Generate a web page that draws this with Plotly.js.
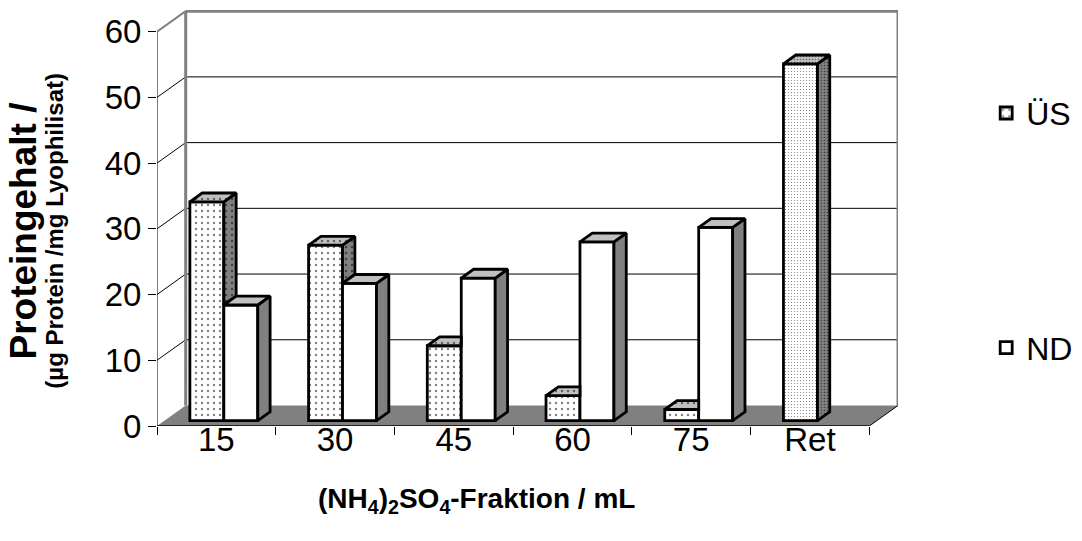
<!DOCTYPE html>
<html>
<head>
<meta charset="utf-8">
<script src="https://cdn.plot.ly/plotly-3.0.1.min.js"></script>
<style>html,body{margin:0;padding:0;background:#fff;}#chart{width:1082px;height:541px;}</style>
</head>
<body>
<div id="chart"></div>
<script>
// ---------------- data ----------------
const categories = ['15', '30', '45', '60', '75', 'Ret'];
const usValues = [33.3, 26.7, 11.4, 3.8, 1.7, 54.3];   // ÜS
const ndValues = [17.6, 20.9, 21.7, 27.2, 29.4, null]; // ND
const yTicks = [0, 10, 20, 30, 40, 50, 60];
const seriesNames = ['ÜS', 'ND'];

// ---------------- geometry / style ----------------
const FONT = '"Liberation Sans", Arial, sans-serif';
const N = categories.length;
const X0 = -0.5, X1 = N - 0.5, YTOP = yTicks[yTicks.length - 1];
const DX = 0.2417, DY = 3.12;       // depth of the 3D floor in axis units
const F0 = 0.26, FD = 0.43;         // bar front position / bar depth as fraction of floor depth
const W = 0.286;                    // bar width (category units)
const SX = F0 * DX, B = F0 * DY, ddx = FD * DX, ddy = FD * DY;
const usPatternSize = categories.map((c, i) => ndValues[i] == null ? 3 : 6);
const xs = categories.map((c, i) => i);

function polys(list) {
  const x = [], y = [];
  list.forEach(p => {
    p.forEach(pt => { x.push(pt[0]); y.push(pt[1]); });
    x.push(p[0][0]); y.push(p[0][1]);
    x.push(null); y.push(null);
  });
  return { x, y };
}

const usSideN = [], usSideF = [], usTopN = [], usTopF = [], ndSide = [], ndTop = [];
xs.forEach(i => {
  const vU = usValues[i], vN = ndValues[i];
  if (vU != null) {
    const xl = i + SX - W, xr = i + SX, T = B + vU;
    const bot = B + (vN == null ? 0 : vN);
    const side = (vN == null || vU > vN) ? [[xr, bot], [xr + ddx, bot + ddy], [xr + ddx, T + ddy], [xr, T]] : null;
    const top = (vN != null && vN > vU)
      ? [[xl, T], [xr, T], [xr, T + ddy], [xl + ddx, T + ddy]]
      : [[xl, T], [xr, T], [xr + ddx, T + ddy], [xl + ddx, T + ddy]];
    if (vN == null) { if (side) usSideF.push(side); usTopF.push(top); }
    else { if (side) usSideN.push(side); usTopN.push(top); }
  }
  if (vN != null) {
    const xl = i + SX, xr = i + SX + W, T = B + vN;
    ndSide.push([[xr, B], [xr + ddx, B + ddy], [xr + ddx, T + ddy], [xr, T]]);
    ndTop.push([[xl, T], [xr, T], [xr + ddx, T + ddy], [xl + ddx, T + ddy]]);
  }
});

const OUT = { color: '#000', width: 2.8 };
function face(list, fill, pat) {
  const p = polys(list);
  const t = { type: 'scatter', mode: 'lines', x: p.x, y: p.y, fill: 'toself', fillcolor: fill,
    line: OUT, showlegend: false, hoverinfo: 'skip' };
  if (pat) t.fillpattern = pat;
  return t;
}

const traces = [
  { type: 'bar', name: seriesNames[0], legendgroup: 'a', x: xs, y: usValues, base: B, offset: SX - W, width: W,
    marker: { color: '#fff', line: OUT,
      pattern: { shape: '.', size: usPatternSize, solidity: 0.12, fgcolor: '#000', bgcolor: '#fff', fillmode: 'overlay' } },
    hoverinfo: 'skip' },
  { type: 'bar', name: seriesNames[1], legendgroup: 'b', x: xs, y: ndValues, base: B, offset: SX, width: W,
    marker: { color: '#fff', line: OUT }, hoverinfo: 'skip' },
  face(usSideN, '#808080', { shape: '.', size: 6, solidity: 0.12, fgcolor: '#000', bgcolor: '#808080', fillmode: 'overlay' }),
  face(usTopN, '#c0c0c0', { shape: '.', size: 6, solidity: 0.12, fgcolor: '#000', bgcolor: '#c0c0c0', fillmode: 'overlay' }),
  face(usSideF, '#606060', { shape: '.', size: 3, solidity: 0.2, fgcolor: '#000', bgcolor: '#808080', fillmode: 'overlay' }),
  face(usTopF, '#b0b0b0', { shape: '.', size: 3, solidity: 0.2, fgcolor: '#000', bgcolor: '#c0c0c0', fillmode: 'overlay' }),
  face(ndSide, '#808080'),
  face(ndTop, '#c0c0c0')
];

// frame shapes (walls, floor, gridlines)
const shapes = [];
const L = (x0, y0, x1, y1, color, width) => ({ type: 'line', xref: 'x', yref: 'y', x0, y0, x1, y1,
  line: { color, width }, layer: 'below' });
shapes.push({ type: 'path', xref: 'x', yref: 'y', layer: 'below',
  path: `M ${X0},0 L ${X1},0 L ${X1 + DX},${DY} L ${X0 + DX},${DY} Z`, fillcolor: '#808080', line: { width: 0 } });
yTicks.forEach(v => {
  if (v > 0 && v < YTOP) {
    shapes.push(L(X0 + DX, v + DY, X1 + DX, v + DY, '#000', 1));
    shapes.push(L(X0, v, X0 + DX, v + DY, '#000', 1));
  }
});
shapes.push(L(X0 + DX, DY, X0 + DX, YTOP + DY, '#808080', 3));
shapes.push(L(X0 + DX, YTOP + DY, X1 + DX, YTOP + DY, '#808080', 3));
shapes.push(L(X1 + DX, DY, X1 + DX, YTOP + DY, '#808080', 3));
shapes.push(L(X0, YTOP, X0 + DX, YTOP + DY, '#808080', 2));
shapes.push(L(X0, 0, X0, YTOP, '#000', 1));
shapes.push(L(X0, 0, X1, 0, '#000', 1.5));
shapes.push(L(X1, 0, X1 + DX, DY, '#000', 1));

const layout = {
  width: 1082, height: 541,
  margin: { l: 157, r: 184, t: 10, b: 115, autoexpand: false },
  paper_bgcolor: '#fff', plot_bgcolor: '#fff',
  barmode: 'overlay',
  showlegend: true,
  font: { family: FONT, color: '#000', size: 32 },
  xaxis: {
    range: [X0, X1 + DX], showgrid: false, zeroline: false, showline: false,
    tickvals: xs, ticktext: categories, ticks: '', tickfont: { size: 33 }, ticklabelstandoff: -9,
    minor: { tickvals: xs.concat([N]).map(i => i - 0.5), ticks: 'outside', ticklen: 8, tickcolor: '#000', tickwidth: 1 },
    fixedrange: true, automargin: false
  },
  yaxis: {
    range: [0, 63.3], showgrid: false, zeroline: false, showline: false,
    tickvals: yTicks, ticks: 'outside', ticklen: 8, tickcolor: '#000', tickwidth: 1,
    tickfont: { size: 33 }, fixedrange: true, automargin: false
  },
  legend: {
    x: 1.119, xanchor: 'left', y: 0.818, yanchor: 'top',
    traceorder: 'grouped', tracegroupgap: 190,
    font: { size: 32 }, bgcolor: 'rgba(0,0,0,0)'
  },
  shapes: shapes,
  annotations: [
    { xref: 'paper', yref: 'paper', x: -0.18, y: 0.469, xanchor: 'center', yanchor: 'middle', textangle: -90,
      text: '<b>Proteingehalt /</b>', showarrow: false, font: { size: 37 } },
    { xref: 'paper', yref: 'paper', x: -0.138, y: 0.469, xanchor: 'center', yanchor: 'middle', textangle: -90,
      text: '<b>(µg Protein /mg Lyophilisat)</b>', showarrow: false, font: { size: 24 } },
    { xref: 'paper', yref: 'paper', x: 0.4305, y: -0.18, xanchor: 'center', yanchor: 'middle',
      text: '<b>(NH<sub>4</sub>)<sub>2</sub>SO<sub>4</sub>-Fraktion / mL</b>', showarrow: false, font: { size: 28 } }
  ]
};

Plotly.newPlot('chart', traces, layout, { displayModeBar: false, staticPlot: true });
</script>
</body>
</html>
